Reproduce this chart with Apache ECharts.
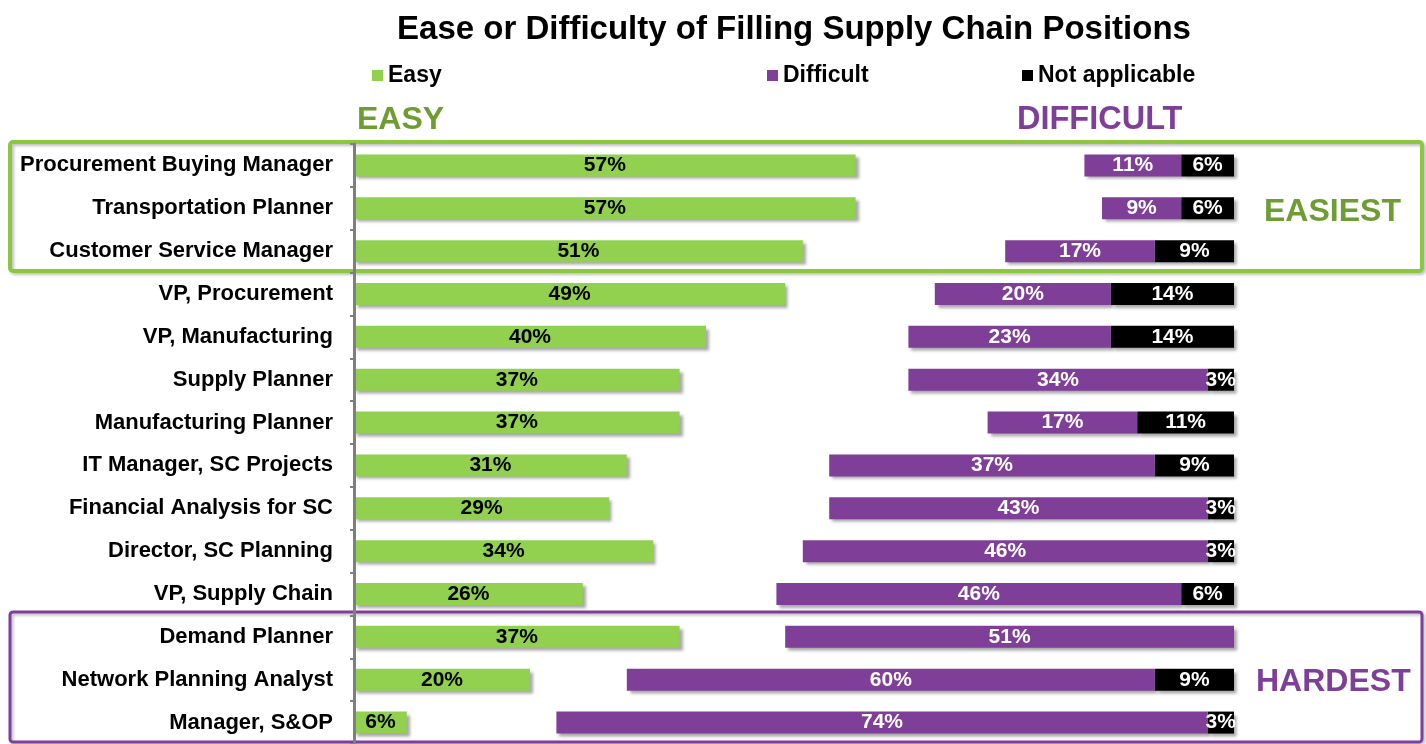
<!DOCTYPE html>
<html><head><meta charset="utf-8">
<script src="https://cdn.jsdelivr.net/npm/echarts@6/dist/echarts.min.js"></script>
<style>html,body{margin:0;padding:0;background:#fff}#c{width:1426px;height:744px}</style>
</head><body><div id="c"></div>
<script>
const categories = ["Procurement Buying Manager","Transportation Planner","Customer Service Manager","VP, Procurement","VP, Manufacturing","Supply Planner","Manufacturing Planner","IT Manager, SC Projects","Financial Analysis for SC","Director, SC Planning","VP, Supply Chain","Demand Planner","Network Planning Analyst","Manager, S&OP"];
const easy = [57,57,51,49,40,37,37,31,29,34,26,37,20,6];
const difficult = [11,9,17,20,23,34,17,37,43,46,46,51,60,74];
const notApplicable = [6,6,9,14,14,3,11,9,3,3,6,0,9,3];

const FONT = '"Liberation Sans", Arial, sans-serif';
const GREEN = '#92d050', PURPLE = '#7f3f98', BLACK = '#000000';
const shadow = {shadowColor:'rgba(0,0,0,0.35)', shadowBlur:3, shadowOffsetX:3, shadowOffsetY:3};
const pct = p => p.value ? p.value + '%' : '';
const legendText = {fontFamily:FONT, fontWeight:'bold', fontSize:23, color:'#000'};

const chart = echarts.init(document.getElementById('c'));
chart.setOption({
  animation:false,
  title:{text:'Ease or Difficulty of Filling Supply Chain Positions', left:789, textAlign:'center', top:8,
    textStyle:{fontFamily:FONT, fontWeight:'bold', fontSize:33, color:'#000'}},
  legend:[
    {data:['Easy'], left:367, top:59, icon:'rect', itemWidth:11, itemHeight:11, textStyle:legendText},
    {data:['Difficult'], left:762, top:59, icon:'rect', itemWidth:11, itemHeight:11, textStyle:legendText},
    {data:['Not applicable'], left:1017, top:59, icon:'rect', itemWidth:11, itemHeight:11, textStyle:legendText}
  ],
  grid:{left:354, right:192, top:144, bottom:0},
  xAxis:[
    {type:'value', min:0, max:100, show:false},
    {type:'value', min:0, max:100, inverse:true, show:false}
  ],
  yAxis:[
    {type:'category', data:categories, inverse:true,
      axisLine:{show:true, lineStyle:{color:'#7f7f7f', width:3}},
      axisTick:{show:true, length:4, lineStyle:{color:'#7f7f7f', width:2}},
      axisLabel:{fontFamily:FONT, fontWeight:'bold', fontSize:22, color:'#000', margin:21},
      splitLine:{show:false}, z:5},
    {type:'category', data:categories, inverse:true, show:false}
  ],
  series:[
    {name:'Easy', type:'bar', xAxisIndex:0, yAxisIndex:0, data:easy, barWidth:22, itemStyle:Object.assign({color:GREEN}, shadow),
      label:{show:true, position:'inside', formatter:pct, fontFamily:FONT, fontWeight:'bold', fontSize:21, color:'#000'}},
    {name:'Not applicable', type:'bar', xAxisIndex:1, yAxisIndex:1, stack:'r', data:notApplicable, barWidth:22, itemStyle:Object.assign({color:BLACK}, shadow),
      label:{show:true, position:'inside', formatter:pct, fontFamily:FONT, fontWeight:'bold', fontSize:21, color:'#fff'}},
    {name:'Difficult', type:'bar', xAxisIndex:1, yAxisIndex:1, stack:'r', data:difficult, barWidth:22, itemStyle:Object.assign({color:PURPLE}, shadow),
      label:{show:true, position:'inside', formatter:pct, fontFamily:FONT, fontWeight:'bold', fontSize:21, color:'#fff'}}
  ],
  graphic:[
    {type:'rect', z:-1, shape:{x:10,y:142,width:1412,height:129,r:3}, style:{fill:'none', stroke:'#8dc63f', lineWidth:4, shadowColor:'rgba(0,0,0,0.25)', shadowBlur:3, shadowOffsetX:2, shadowOffsetY:2}},
    {type:'rect', z:-1, shape:{x:10,y:612,width:1412,height:130,r:3}, style:{fill:'none', stroke:'#7e3f98', lineWidth:3, shadowColor:'rgba(0,0,0,0.25)', shadowBlur:3, shadowOffsetX:2, shadowOffsetY:2}},
    {type:'text', left:357, top:104, style:{text:'EASY', fill:'#6f9d34', font:'bold 32px "Liberation Sans", Arial, sans-serif'}},
    {type:'text', left:1017, top:104, style:{text:'DIFFICULT', fill:'#7e3f98', font:'bold 32.5px "Liberation Sans", Arial, sans-serif'}},
    {type:'text', left:1264, top:196, style:{text:'EASIEST', fill:'#6f9d34', font:'bold 32px "Liberation Sans", Arial, sans-serif'}},
    {type:'text', left:1256, top:666, style:{text:'HARDEST', fill:'#7e3f98', font:'bold 32px "Liberation Sans", Arial, sans-serif'}}
  ]
});
</script></body></html>
